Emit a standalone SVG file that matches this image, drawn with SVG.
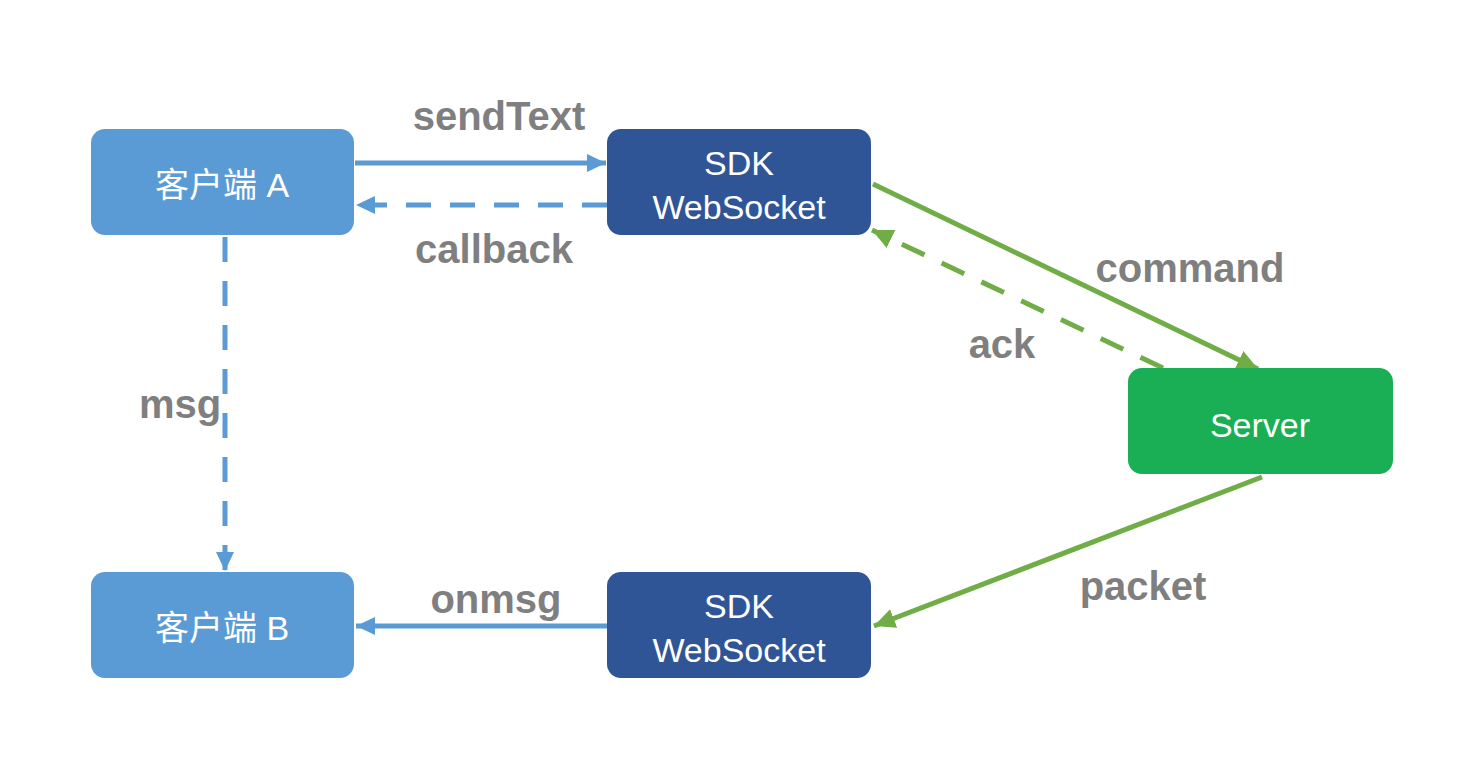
<svg xmlns="http://www.w3.org/2000/svg" width="1461" height="771" viewBox="0 0 1461 771">
<defs>
<style>
.node text{font-family:"Liberation Sans","Noto Sans CJK SC",sans-serif;font-size:34px;fill:#fff;text-anchor:middle}
.lbl{font-family:"Liberation Sans",Arial,sans-serif;font-weight:bold;font-size:40px;fill:#7f7f7f;text-anchor:middle}
.blue{stroke:#5b9bd5;stroke-width:5;fill:none}
.green{stroke:#70ad47;stroke-width:5;fill:none}
.dash{stroke-dasharray:25 19}
</style>
<marker id="ab" markerUnits="userSpaceOnUse" markerWidth="22" markerHeight="22" viewBox="0 0 22 22" refX="19" refY="11" orient="auto">
<path d="M0,2 L19,11 L0,20 Z" fill="#5b9bd5"/>
</marker>
<marker id="ag" markerUnits="userSpaceOnUse" markerWidth="24" markerHeight="24" viewBox="0 0 24 24" refX="21" refY="12" orient="auto">
<path d="M0,2 L21,12 L0,22 Z" fill="#70ad47"/>
</marker>
</defs>
<rect width="1461" height="771" fill="#fff"/>
<g id="connectors">
<line class="blue" x1="355" y1="163" x2="606" y2="163" marker-end="url(#ab)"/>
<line class="blue dash" x1="607" y1="205" x2="356" y2="205" marker-end="url(#ab)"/>
<line class="blue dash" x1="225" y1="237" x2="225" y2="571" marker-end="url(#ab)"/>
<line class="blue" x1="607" y1="626" x2="356" y2="626" marker-end="url(#ab)"/>
<line class="green" x1="873" y1="184" x2="1258" y2="369" marker-end="url(#ag)"/>
<line class="green dash" x1="1163" y1="368" x2="872" y2="230" marker-end="url(#ag)"/>
<line class="green" x1="1262" y1="477" x2="874" y2="626" marker-end="url(#ag)"/>
<text class="lbl" x="499" y="130">sendText</text>
<text class="lbl" x="494" y="263">callback</text>
<text class="lbl" x="180" y="418">msg</text>
<text class="lbl" x="1190" y="282">command</text>
<text class="lbl" x="1002" y="358">ack</text>
<text class="lbl" x="496" y="613">onmsg</text>
<text class="lbl" x="1143" y="600">packet</text>
</g>
<g id="clientA" class="node">
<rect x="91" y="129" width="263" height="106" rx="14" fill="#5b9bd5"/>
<text x="222" y="197">客户端 A</text>
</g>
<g id="sdkTop" class="node">
<rect x="607" y="129" width="264" height="106" rx="14" fill="#2f5597"/>
<text x="739" y="175">SDK</text>
<text x="739" y="219">WebSocket</text>
</g>
<g id="server" class="node">
<rect x="1128" y="368" width="265" height="106" rx="14" fill="#1aaf54"/>
<text x="1260" y="437">Server</text>
</g>
<g id="clientB" class="node">
<rect x="91" y="572" width="263" height="106" rx="14" fill="#5b9bd5"/>
<text x="222" y="640">客户端 B</text>
</g>
<g id="sdkBottom" class="node">
<rect x="607" y="572" width="264" height="106" rx="14" fill="#2f5597"/>
<text x="739" y="618">SDK</text>
<text x="739" y="662">WebSocket</text>
</g>
</svg>
